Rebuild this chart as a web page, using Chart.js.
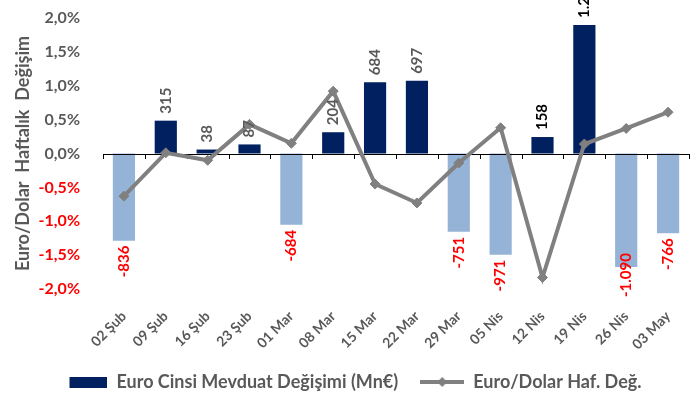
<!DOCTYPE html>
<html lang="tr">
<head>
<meta charset="UTF-8">
<title>Euro Cinsi Mevduat Değişimi</title>
<style>
    html, body { margin: 0; padding: 0; background: #fff; }
    #wrap { width: 700px; height: 401px; }
</style>
<script src="https://cdn.jsdelivr.net/npm/chart.js@4.4.1/dist/chart.umd.min.js"></script>
</head>
<body>
<div id="wrap"><canvas id="chart" width="700" height="401"></canvas></div>
<script>
    // weekly data
    const weeks = ['02 Şub', '09 Şub', '16 Şub', '23 Şub', '01 Mar', '08 Mar', '15 Mar',
                   '22 Mar', '29 Mar', '05 Nis', '12 Nis', '19 Nis', '26 Nis', '03 May'];
    const depositChange = [-836, 315, 38, 87, -684, 204, 684, 697, -751, -971, 158, 1233, -1090, -766];
    const euroDollarChange = [-0.63, 0.01, -0.10, 0.43, 0.15, 0.92, -0.45, -0.73, -0.14, 0.38, -1.83, 0.14, 0.37, 0.61];
    const pctTicks = [-2.0, -1.5, -1.0, -0.5, 0.0, 0.5, 1.0, 1.5, 2.0];
    const depositRange = [-1300, 1300];

    const FONT = 'Lato';
    const GREY_TXT = '#595959';
    const NAVY = '#002060';
    const LIGHT = '#95B3D7';
    const LINE = '#808080';
    const blackLabels = ['12 Nis', '19 Nis'];

    function fmtThousands(v) {
        const s = Math.abs(v).toString().replace(/\B(?=(\d{3})+(?!\d))/g, '.');
        return (v < 0 ? '-' : '') + s;
    }
    function fmtPct(v) {
        return v.toFixed(1).replace('.', ',') + '%';
    }

    // legend swatches
    function barSwatch() {
        const c = document.createElement('canvas');
        c.width = 44; c.height = 11;
        const g = c.getContext('2d');
        g.fillStyle = NAVY;
        g.fillRect(6, 0, 38, 11);
        return c;
    }
    function lineSwatch() {
        const c = document.createElement('canvas');
        c.width = 44; c.height = 12;
        const g = c.getContext('2d');
        g.strokeStyle = LINE;
        g.lineWidth = 4;
        g.beginPath(); g.moveTo(0, 6); g.lineTo(44, 6); g.stroke();
        g.fillStyle = LINE;
        g.beginPath(); g.moveTo(22, 1); g.lineTo(27, 6); g.lineTo(22, 11); g.lineTo(17, 6); g.closePath(); g.fill();
        return c;
    }
    const swatches = [barSwatch(), lineSwatch()];

    // zero axis with category tick marks
    const zeroAxis = {
        id: 'zeroAxis',
        afterDatasetDraw(chart, args) {
            if (args.index !== 0) return;
            const ctx = chart.ctx;
            const x = chart.scales.x;
            const y0 = chart.scales.y.getPixelForValue(0);
            ctx.save();
            ctx.strokeStyle = '#000';
            ctx.lineWidth = 1;
            ctx.beginPath();
            ctx.moveTo(chart.chartArea.left, Math.round(y0) + 0.5);
            ctx.lineTo(chart.chartArea.right, Math.round(y0) + 0.5);
            for (let i = 0; i <= weeks.length; i++) {
                const px = Math.round(x.getPixelForValue(i - 0.5)) + 0.5;
                ctx.moveTo(px, Math.round(y0));
                ctx.lineTo(px, Math.round(y0) + 5);
            }
            ctx.stroke();
            ctx.restore();
        }
    };

    // rotated value labels on bars
    const barLabels = {
        id: 'barLabels',
        afterDatasetsDraw(chart) {
            const ctx = chart.ctx;
            const meta = chart.getDatasetMeta(0);
            const bottomLimit = chart.chartArea.bottom + 8;
            ctx.save();
            ctx.font = 'bold 15px ' + FONT;
            ctx.textBaseline = 'middle';
            meta.data.forEach((bar, i) => {
                const v = depositChange[i];
                const txt = fmtThousands(v);
                const w = ctx.measureText(txt).width;
                ctx.save();
                if (v >= 0) {
                    ctx.fillStyle = blackLabels.includes(weeks[i]) ? '#000' : GREY_TXT;
                    ctx.translate(bar.x, bar.y - 7);
                    ctx.rotate(-Math.PI / 2);
                    ctx.textAlign = 'left';
                } else {
                    ctx.fillStyle = '#FF0000';
                    let top = bar.y + 5;
                    if (top + w > bottomLimit) top = bottomLimit - w;
                    ctx.translate(bar.x, top);
                    ctx.rotate(-Math.PI / 2);
                    ctx.textAlign = 'right';
                }
                ctx.fillText(txt, 0, 0);
                ctx.restore();
            });
            ctx.restore();
        }
    };

    // nudge legend a bit right, like the original
    const legendShift = {
        id: 'legendShift',
        afterLayout(chart) {
            chart.legend.left += 8;
            chart.legend.right += 8;
        }
    };

    const ctx = document.getElementById('chart').getContext('2d');
    new Chart(ctx, {
        data: {
            labels: weeks,
            datasets: [{
                type: 'bar',
                label: 'Euro Cinsi Mevduat Değişimi (Mn€)',
                data: depositChange,
                yAxisID: 'y2',
                backgroundColor: depositChange.map(v => v >= 0 ? NAVY : LIGHT),
                barPercentage: 0.53,
                categoryPercentage: 1,
                order: 2
            }, {
                type: 'line',
                label: 'Euro/Dolar Haf. Değ.',
                data: euroDollarChange,
                yAxisID: 'y',
                borderColor: LINE,
                borderWidth: 4,
                pointStyle: 'rectRot',
                pointRadius: 5,
                pointBackgroundColor: LINE,
                pointBorderColor: LINE,
                pointBorderWidth: 1,
                tension: 0,
                order: 1
            }]
        },
        options: {
            responsive: false,
            animation: false,
            layout: { padding: { top: 18, right: 11, left: 0, bottom: 0 } },
            scales: {
                x: {
                    grid: { display: false },
                    border: { display: false },
                    ticks: {
                        maxRotation: 45,
                        minRotation: 45,
                        padding: 11,
                        color: GREY_TXT,
                        font: { family: FONT, size: 14, weight: 'bold' }
                    },
                    afterFit: s => { s.height = 62; }
                },
                y: {
                    min: -2,
                    max: 2,
                    afterBuildTicks: s => { s.ticks = pctTicks.map(v => ({ value: v })); },
                    grid: { display: true, drawOnChartArea: false, drawTicks: true, tickLength: 20, tickColor: 'rgba(0,0,0,0)' },
                    border: { display: false },
                    ticks: {
                        padding: 3,
                        callback: v => fmtPct(v),
                        color: c => c.tick && c.tick.value < 0 ? '#FF0000' : GREY_TXT,
                        font: { family: FONT, size: 16, weight: 'bold' }
                    },
                    title: {
                        display: true,
                        text: 'Euro/Dolar  Haftalık  Değişim',
                        color: GREY_TXT,
                        padding: { top: 12, bottom: 0 },
                        font: { family: FONT, size: 18, weight: 'bold' }
                    },
                    afterFit: s => { s.width = 103; }
                },
                y2: {
                    display: false,
                    min: depositRange[0],
                    max: depositRange[1]
                }
            },
            plugins: {
                tooltip: { enabled: false },
                legend: {
                    position: 'bottom',
                    labels: {
                        usePointStyle: true,
                        pointStyleWidth: 44,
                        padding: 22,
                        color: GREY_TXT,
                        font: { family: FONT, size: 18, weight: 'bold' },
                        sort: (a, b) => a.datasetIndex - b.datasetIndex,
                        generateLabels: chart => {
                            const items = Chart.defaults.plugins.legend.labels.generateLabels(chart);
                            return items.map(it => Object.assign(it, { pointStyle: swatches[it.datasetIndex] }));
                        }
                    }
                }
            }
        },
        plugins: [zeroAxis, barLabels, legendShift]
    });
</script>
</body>
</html>
